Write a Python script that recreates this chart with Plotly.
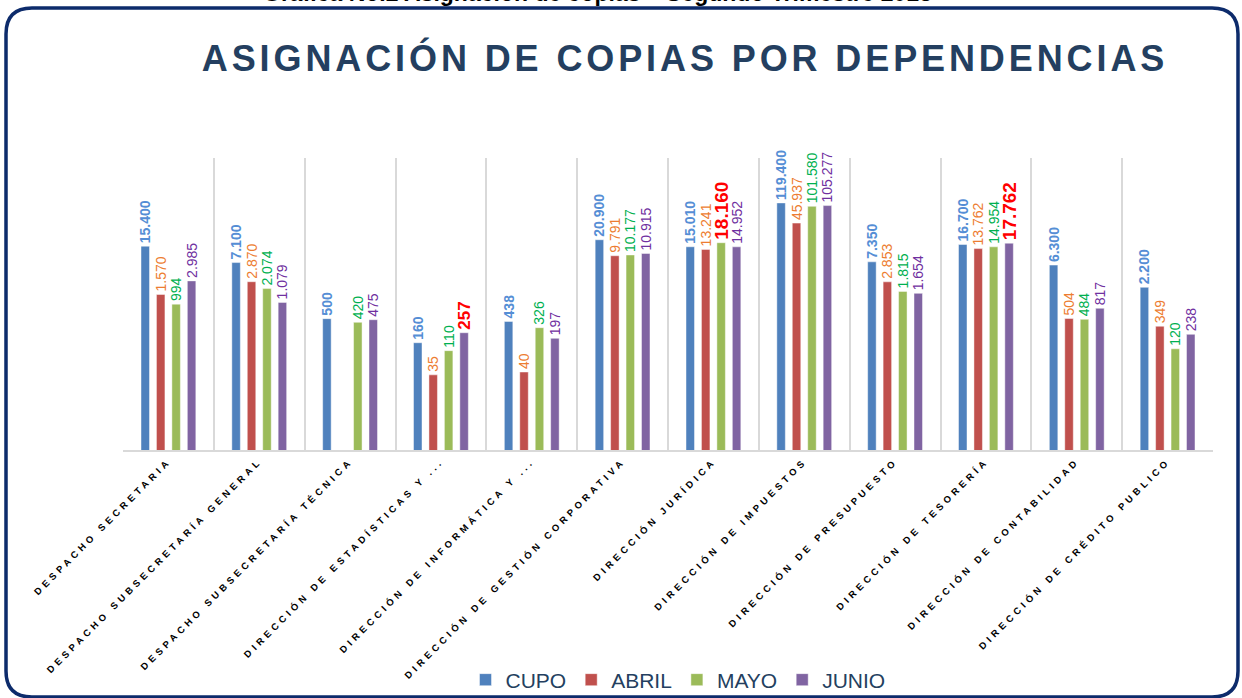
import plotly.graph_objects as go

# ---------------- data ----------------
categories = [
    "DESPACHO SECRETARIA",
    "DESPACHO SUBSECRETARÍA GENERAL",
    "DESPACHO SUBSECRETARÍA TÉCNICA",
    "DIRECCIÓN DE ESTADÍSTICAS Y ...",
    "DIRECCIÓN DE INFORMÁTICA Y ...",
    "DIRECCIÓN DE GESTIÓN CORPORATIVA",
    "DIRECCIÓN JURÍDICA",
    "DIRECCIÓN DE IMPUESTOS",
    "DIRECCIÓN DE PRESUPUESTO",
    "DIRECCIÓN DE TESORERÍA",
    "DIRECCIÓN DE CONTABILIDAD",
    "DIRECCIÓN DE CRÉDITO PUBLICO",
]
cupo = [15400, 7100, 500, 160, 438, 20900, 15010, 119400, 7350, 16700, 6300, 2200]
abril = [1570, 2870, None, 35, 40, 9791, 13241, 45937, 2853, 13762, 504, 349]
mayo = [994, 2074, 420, 110, 326, 10177, 18160, 101580, 1815, 14954, 484, 120]
junio = [2985, 1079, 475, 257, 197, 10915, 14952, 105277, 1654, 17762, 817, 238]

series_names = ["CUPO", "ABRIL", "MAYO", "JUNIO"]
highlights = {"MAYO": [6], "JUNIO": [3, 9]}  # labels shown in red bold

title_text = "ASIGNACIÓN DE COPIAS POR DEPENDENCIAS"
top_caption = "Gráfica No.2 Asignación de copias – Segundo Trimestre 2018"

# ---------------- styles ----------------
bar_colors = {"CUPO": "#4F81BD", "ABRIL": "#C0504D", "MAYO": "#9BBB59", "JUNIO": "#8064A2"}
label_colors = {"CUPO": "#558ED5", "ABRIL": "#ED7D31", "MAYO": "#00B050", "JUNIO": "#7030A0"}
FONT = "Arial, 'Liberation Sans', sans-serif"

W, H = 1242, 698
L, R, T, B = 123, 29, 158, 248
PW, PH = W - L - R, H - T - B


def fmt(v):
    return f"{v:,}".replace(",", ".")


fig = go.Figure()
for name, vals in zip(series_names, [cupo, abril, mayo, junio]):
    hi = highlights.get(name, [])
    texts, colors, sizes = [], [], []
    for i, v in enumerate(vals):
        if v is None:
            texts.append("")
        elif i in hi or name == "CUPO":
            texts.append("<b>" + fmt(v) + "</b>")
        else:
            texts.append(fmt(v))
        colors.append("#FF0000" if i in hi else label_colors[name])
        sizes.append((17 if (vals[i] or 0) < 1000 else 19) if i in hi else 14)
    fig.add_trace(go.Bar(
        name=name, x=categories, y=vals,
        marker=dict(color=bar_colors[name], line=dict(color="rgba(255,255,255,0.45)", width=1)),
        text=texts, textposition="outside", textangle=-90,
        textfont=dict(color=colors, size=sizes, family=FONT),
        constraintext="none", cliponaxis=False,
    ))


def px(x):
    return (x - L) / PW


def py(y):
    return (T + PH - y) / PH


# rounded frame
x0, x1, y0, y1, r = 6, 1238, 8, 697, 26
path = (f"M {px(x0 + r)},{py(y0)} L {px(x1 - r)},{py(y0)} Q {px(x1)},{py(y0)} {px(x1)},{py(y0 + r)} "
        f"L {px(x1)},{py(y1 - r)} Q {px(x1)},{py(y1)} {px(x1 - r)},{py(y1)} "
        f"L {px(x0 + r)},{py(y1)} Q {px(x0)},{py(y1)} {px(x0)},{py(y1 - r)} "
        f"L {px(x0)},{py(y0 + r)} Q {px(x0)},{py(y0)} {px(x0 + r)},{py(y0)} Z")

fig.update_layout(
    width=W, height=H,
    margin=dict(l=L, r=R, t=T, b=B, autoexpand=False),
    paper_bgcolor="white", plot_bgcolor="white",
    separators=",.",
    barmode="group", bargap=0.32, bargroupgap=0.45,
    title=dict(text=f"<b>{title_text}</b>", x=px(685), xanchor="center", xref="paper",
               y=1 - 58 / H, yanchor="middle", yref="container",
               font=dict(family=FONT, size=36, color="#243F60")),
    xaxis=dict(type="category", tickson="boundaries", showgrid=True, gridcolor="#D9D9D9", gridwidth=2,
               showline=True, linecolor="#D9D9D9", linewidth=2, ticks="", tickangle=-45,
               tickfont=dict(family=FONT, size=9.5, color="#000000", weight="bold"),
               automargin=False, fixedrange=True),
    yaxis=dict(type="log", range=[0, 6], showgrid=False, showticklabels=False, ticks="",
               zeroline=False, showline=False, automargin=False, fixedrange=True),
    legend=dict(orientation="h", x=px(678), xanchor="center", y=py(680), yanchor="middle",
                bgcolor="rgba(0,0,0,0)",
                font=dict(family=FONT, size=21, color="#243F60"), itemwidth=30, traceorder="normal"),
    shapes=[dict(type="path", xref="paper", yref="paper", path=path,
                 line=dict(color="#0D2B6B", width=3.5), fillcolor="rgba(0,0,0,0)", layer="above")],
    annotations=[dict(text=f"<b>{top_caption}</b>", xref="paper", yref="paper", x=px(597), y=py(8),
                      xanchor="center", yanchor="bottom", showarrow=False,
                      font=dict(family=FONT, size=23, color="#000000"))],
)

post = """
document.body.style.margin='0';
var gd = document.getElementById('{plot_id}');
gd.querySelectorAll('.xtick text').forEach(function(t){ t.style.letterSpacing='3.8px'; });
var tt = gd.querySelector('.gtitle'); if (tt) { tt.style.letterSpacing='3.9px'; }
"""
fig.write_html("out.html", post_script=post, config={"displayModeBar": False})
